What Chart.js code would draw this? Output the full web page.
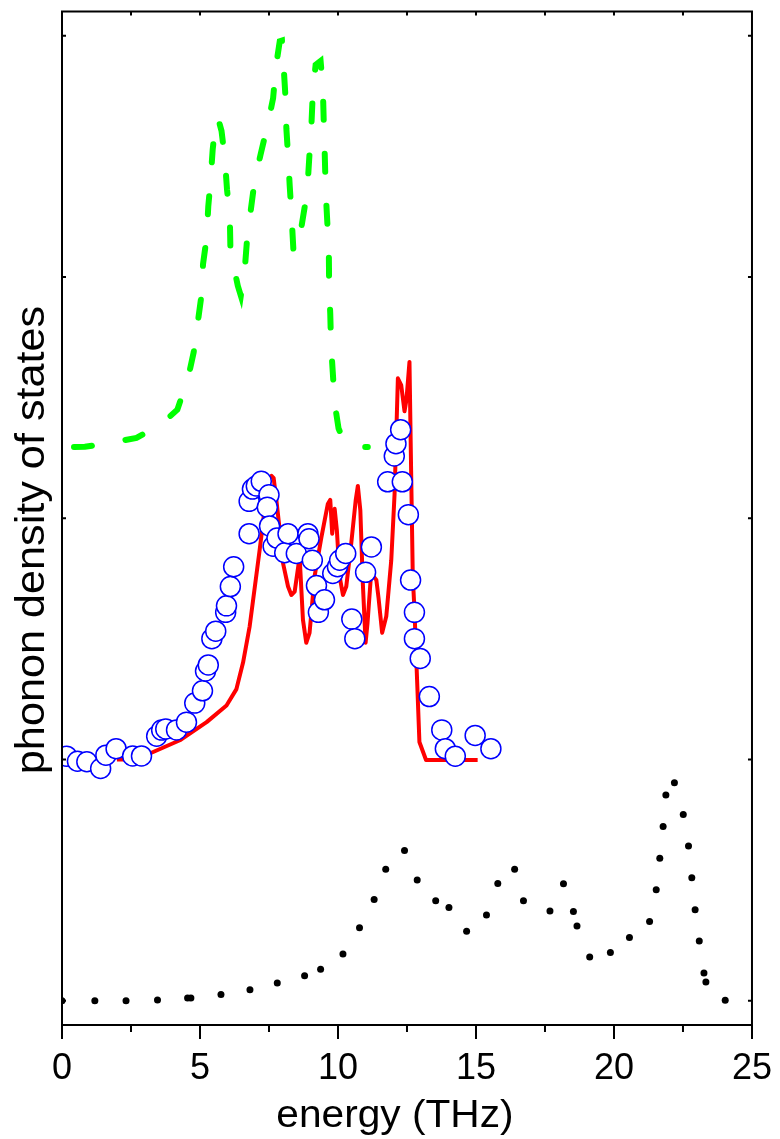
<!DOCTYPE html>
<html>
<head>
<meta charset="utf-8">
<script src="https://cdn.jsdelivr.net/npm/chart.js@4"></script>
<style>
  html, body { margin: 0; padding: 0; background: #fff; }
  canvas { display: block; }
</style>
</head>
<body>
<canvas id="dos" width="780" height="1139"></canvas>
<script>
'use strict';

// axis text
const xTitle = 'energy (THz)';
const yTitle = 'phonon density of states';
const xTickStep = 5;

// black dots (bottom curve)
const dotEnergy = [0.0, 1.19, 2.32, 3.46, 4.55, 4.67, 5.76, 6.81, 7.80, 8.79, 9.37, 10.18, 10.78, 11.31, 11.73,
  12.41, 12.87, 13.54, 14.02, 14.66, 15.38, 15.79, 16.40, 16.72, 17.68, 18.17, 18.53, 18.66, 19.12, 19.87,
  20.56, 21.29, 21.53, 21.66, 21.78, 21.88, 22.19, 22.51, 22.70, 22.82, 22.94, 23.09, 23.26, 23.33, 24.03];
const dotDos = [0.0, 0.0, 0.0, 0.004, 0.012, 0.012, 0.026, 0.046, 0.074, 0.104, 0.131, 0.194, 0.303, 0.42, 0.545,
  0.623, 0.501, 0.415, 0.387, 0.288, 0.356, 0.486, 0.545, 0.415, 0.372, 0.485, 0.37, 0.31, 0.182, 0.2,
  0.263, 0.329, 0.46, 0.591, 0.723, 0.853, 0.904, 0.772, 0.642, 0.51, 0.378, 0.248, 0.116, 0.078, 0.003];

// open circles
const circleEnergy = [0.17, 0.56, 0.90, 1.40, 1.59, 1.96, 2.56, 2.88, 3.43, 3.61, 3.76, 4.15, 4.51, 4.81, 5.09,
  5.20, 5.30, 5.43, 5.57, 5.93, 5.96, 6.10, 6.22, 6.78, 6.78, 6.90, 7.04, 7.22, 7.50, 7.44, 7.52, 7.65, 7.79,
  8.07, 8.19, 8.49, 8.91, 8.95, 9.07, 9.22, 9.29, 9.51, 9.81, 9.98, 10.06, 10.28, 10.50, 10.61, 11.00, 11.21,
  11.80, 12.04, 12.10, 12.27, 12.33, 12.55, 12.63, 12.77, 12.77, 12.98, 13.31, 13.76, 13.89, 14.25, 14.97, 15.54];
const circleDos = [1.014, 0.993, 0.991, 0.963, 1.018, 1.045, 1.015, 1.015, 1.097, 1.122, 1.127, 1.123, 1.155, 1.234, 1.285,
  1.367, 1.392, 1.501, 1.532, 1.61, 1.637, 1.717, 1.799, 1.936, 2.07, 2.121, 2.134, 2.153, 2.097, 2.046, 1.968, 1.884, 1.918,
  1.857, 1.936, 1.854, 1.936, 1.915, 1.826, 1.721, 1.61, 1.662, 1.771, 1.799, 1.826, 1.854, 1.582, 1.501, 1.776, 1.881,
  2.151, 2.258, 2.309, 2.367, 2.151, 2.015, 1.744, 1.61, 1.501, 1.419, 1.261, 1.123, 1.045, 1.014, 1.1, 1.045];

// red solid line
const redEnergy = [1.99, 2.52, 3.18, 4.27, 5.24, 5.96, 6.32, 6.56, 6.80, 7.16, 7.28, 7.45, 7.59, 7.67, 7.77, 7.89,
  8.01, 8.19, 8.31, 8.43, 8.61, 8.73, 8.85, 8.97, 9.15, 9.40, 9.63, 9.72, 9.79, 9.88, 9.96, 10.06, 10.18, 10.30,
  10.48, 10.64, 10.72, 10.81, 10.90, 11.00, 11.07, 11.20, 11.39, 11.47, 11.60, 11.75, 11.93, 12.05, 12.17, 12.29,
  12.41, 12.48, 12.59, 12.65, 12.71, 12.77, 12.95, 13.19, 15.06];
const redDos = [1.0, 1.0, 1.025, 1.08, 1.155, 1.224, 1.292, 1.402, 1.552, 1.867, 1.977, 2.158, 2.176, 2.166, 2.073, 1.949,
  1.813, 1.717, 1.682, 1.696, 1.84, 1.58, 1.484, 1.525, 1.758, 1.922, 2.059, 2.076, 1.936, 2.039, 1.949, 1.758, 1.682, 1.717,
  1.895, 2.073, 2.134, 2.032, 1.73, 1.484, 1.566, 1.771, 1.744, 1.669, 1.525, 1.594, 1.826, 2.1, 2.58, 2.552,
  2.443, 2.49, 2.648, 2.196, 1.758, 1.621, 1.073, 0.998, 0.998];

// green dashed line
const greenEnergy = [0.0, 0.83, 1.89, 2.70, 3.61, 4.18, 4.57, 4.77, 4.93, 5.05, 5.11, 5.24, 5.30, 5.38, 5.46, 5.56, 5.65,
  5.78, 5.90, 5.98, 6.08, 6.10, 6.27, 6.37, 6.48, 6.62, 6.71, 6.83, 6.98, 7.19, 7.46, 7.65, 7.75, 7.89, 7.97, 8.04,
  8.10, 8.13, 8.19, 8.25, 8.31, 8.39, 8.61, 8.80, 8.91, 8.98, 9.04, 9.09, 9.19, 9.37, 9.45, 9.48, 9.51, 9.54, 9.57,
  9.63, 9.67, 9.68, 9.72, 9.75, 9.81, 9.88, 10.02, 10.24, 10.66, 11.08];
const greenDos = [2.295, 2.296, 2.315, 2.333, 2.391, 2.45, 2.582, 2.687, 2.82, 2.922, 3.053, 3.162, 3.292, 3.395, 3.528, 3.632, 3.66,
  3.605, 3.491, 3.361, 3.254, 3.128, 3.018, 2.963, 2.922, 3.029, 3.162, 3.268, 3.399, 3.505, 3.635, 3.741, 3.87, 3.977, 3.98, 3.854,
  3.741, 3.614, 3.505, 3.379, 3.272, 3.099, 3.162, 3.295, 3.402, 3.532, 3.637, 3.769, 3.879, 3.895, 3.79, 3.659, 3.552, 3.423, 3.32,
  3.189, 3.08, 2.95, 2.847, 2.714, 2.607, 2.477, 2.372, 2.314, 2.295, 2.295];

const FONT = '"Liberation Sans", Arial, sans-serif';

function toPoints(xs, ys) {
  return xs.map((x, i) => ({ x: x, y: ys[i] }));
}

const frame = {
  id: 'frame',
  afterDatasetsDraw(chart) {
    const ctx = chart.ctx;
    const a = chart.chartArea;
    const xs = chart.scales.x;
    const ys = chart.scales.y;
    ctx.save();
    ctx.strokeStyle = '#000';
    ctx.lineWidth = 2;
    ctx.strokeRect(a.left, a.top, a.right - a.left, a.bottom - a.top);
    ctx.beginPath();
    // minor ticks below, small ticks inside
    for (let e = 2.5; e < 25; e += 5) {
      const px = xs.getPixelForValue(e);
      ctx.moveTo(px, a.bottom);
      ctx.lineTo(px, a.bottom + 7);
    }
    for (let e = 2.5; e < 25; e += 2.5) {
      const px = xs.getPixelForValue(e);
      ctx.moveTo(px, a.top);
      ctx.lineTo(px, a.top + 4);
    }
    for (let v = 0; v <= 4; v++) {
      const py = ys.getPixelForValue(v);
      ctx.moveTo(a.left, py);
      ctx.lineTo(a.left + 4, py);
      ctx.moveTo(a.right, py);
      ctx.lineTo(a.right - 4, py);
    }
    ctx.stroke();
    ctx.restore();
  },
  afterDraw(chart) {
    const ctx = chart.ctx;
    const a = chart.chartArea;
    ctx.save();
    ctx.fillStyle = '#000';
    ctx.textAlign = 'center';
    ctx.textBaseline = 'alphabetic';
    ctx.font = '38px ' + FONT;
    ctx.save();
    ctx.translate((a.left + a.right) / 2 - 12, 1127);
    ctx.scale(1.07, 1);
    ctx.fillText(xTitle, 0, 0);
    ctx.restore();
    ctx.translate(33, 540);
    ctx.rotate(-Math.PI / 2);
    ctx.scale(1.08, 1);
    ctx.textBaseline = 'middle';
    ctx.font = '40px ' + FONT;
    ctx.fillText(yTitle, 0, 0);
    ctx.restore();
  }
};

function onContentLoad() {
  const canvas = document.getElementById('dos');
  new Chart(canvas.getContext('2d'), {
    type: 'scatter',
    data: {
      datasets: [
        {
          data: toPoints(circleEnergy, circleDos),
          order: 0,
          clip: 0,
          pointStyle: 'circle',
          pointRadius: 10,
          pointBorderWidth: 1.5,
          pointBorderColor: '#0000ff',
          pointBackgroundColor: '#ffffff',
          showLine: false
        },
        {
          data: toPoints(redEnergy, redDos),
          order: 1,
          clip: 0,
          showLine: true,
          borderColor: '#ff0000',
          borderWidth: 4,
          borderJoinStyle: 'round',
          pointRadius: 0,
          tension: 0
        },
        {
          data: toPoints(greenEnergy, greenDos),
          order: 2,
          clip: 0,
          showLine: true,
          borderColor: '#00ff00',
          borderWidth: 6,
          borderDash: [18, 34],
          borderDashOffset: -12,
          borderCapStyle: 'round',
          pointRadius: 0,
          tension: 0
        },
        {
          data: toPoints(dotEnergy, dotDos),
          order: 3,
          clip: 0,
          pointStyle: 'circle',
          pointRadius: 3.5,
          pointBorderWidth: 0,
          pointBackgroundColor: '#000000',
          showLine: false
        }
      ]
    },
    options: {
      responsive: false,
      animation: false,
      devicePixelRatio: 1,
      layout: { padding: { top: 5, right: 27, left: 0, bottom: 0 } },
      plugins: { legend: { display: false }, tooltip: { enabled: false } },
      scales: {
        x: {
          type: 'linear',
          min: 0,
          max: 25,
          afterFit: scale => { scale.height = 114; },
          border: { display: false },
          grid: { display: true, drawOnChartArea: false, drawTicks: true, tickLength: 14, color: '#000', lineWidth: 2 },
          ticks: {
            stepSize: xTickStep,
            color: '#000',
            padding: 8,
            maxRotation: 0,
            font: { family: FONT, size: 36 }
          }
        },
        y: {
          type: 'linear',
          min: -0.1,
          max: 4.1,
          afterFit: scale => { scale.width = 62; },
          border: { display: false },
          grid: { display: false },
          ticks: { display: false, stepSize: 1 }
        }
      }
    },
    plugins: [frame]
  });
}

document.addEventListener('DOMContentLoaded', onContentLoad);
</script>
</body>
</html>
